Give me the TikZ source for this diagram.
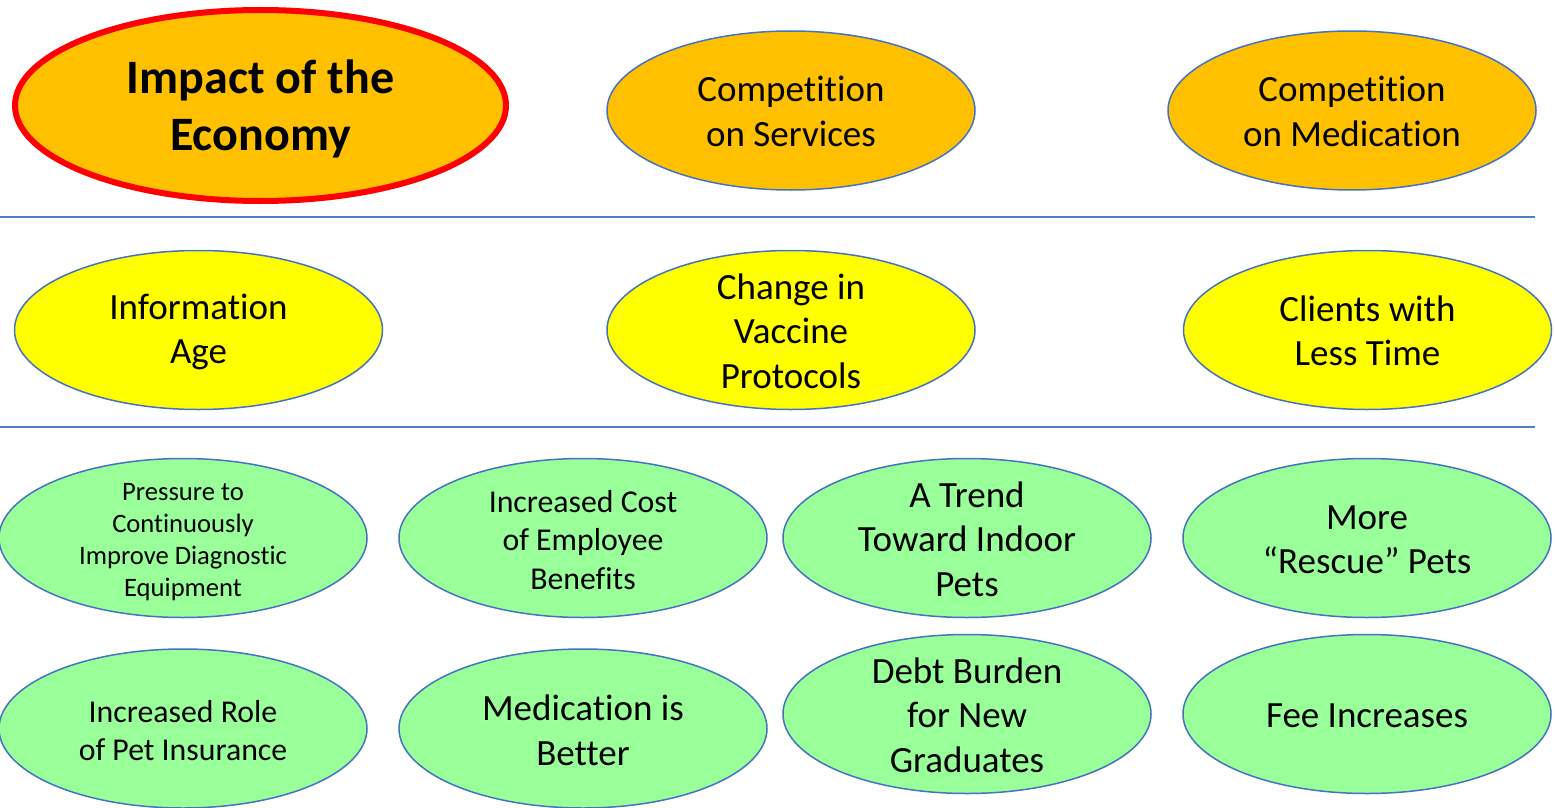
\documentclass[tikz,border=0pt]{standalone}
\usepackage{fontspec}
\setmainfont{Carlito}[Ligatures={NoCommon}]
\usetikzlibrary{shapes.geometric}
\definecolor{edgeblue}{HTML}{4472C4}
\definecolor{sepblue}{HTML}{4F81BD}
\definecolor{orangefill}{HTML}{FFC000}
\definecolor{yellowfill}{HTML}{FFFF00}
\definecolor{greenfill}{HTML}{99FF99}
\tikzset{
  oval/.style={ellipse, draw=edgeblue, line width=1.5pt, minimum width=368pt, minimum height=159pt, inner sep=0pt},
  orangeoval/.style={oval, fill=orangefill},
  yellowoval/.style={oval, fill=yellowfill},
  greenoval/.style={oval, fill=greenfill},
  txt/.style={align=center, inner sep=0pt, font=\fontsize{37}{44.5}\selectfont},
  txtmid/.style={align=center, inner sep=0pt, font=\fontsize{31.8}{38.5}\selectfont},
  txtsmall/.style={align=center, inner sep=0pt, font=\fontsize{26.6}{32}\selectfont},
  txtbig/.style={align=center, inner sep=0pt, font=\bfseries\fontsize{48}{57}\selectfont},
  sep/.style={draw=sepblue, line width=2pt}
}
\begin{document}
\begin{tikzpicture}[x=1pt,y=-1pt]
\useasboundingbox (0,0) rectangle (1555,808);
% row 1
\node[ellipse, draw=red, line width=6pt, fill=orangefill, minimum width=491pt, minimum height=191pt, inner sep=0pt] (impact) at (260.5,105.5) {};
\node[txtbig] at ([yshift=-3pt]impact.center) {Impact of the\\Economy};
\node[orangeoval] (compserv) at (791,110.5) {};
\node[txt] at ([yshift=-1pt]compserv.center) {Competition\\on Services};
\node[orangeoval] (compmed) at (1352,110.5) {};
\node[txt] at ([yshift=-1pt]compmed.center) {Competition\\on Medication};
% separators
\coordinate (s1a) at (0,217);
\coordinate (s1b) at (1535,217);
\coordinate (s2a) at (0,426.5);
\coordinate (s2b) at (1535,426.5);
\draw[sep] (s1a) -- (s1b);
\draw[sep] (s2a) -- (s2b);
% row 2
\node[yellowoval] (info) at (198.5,330) {};
\node[txt] at ([yshift=-2pt]info.center) {Information\\Age};
\node[yellowoval] (vacc) at (791,330) {};
\node[txt] at ([yshift=-1pt]vacc.center) {Change in\\Vaccine\\Protocols};
\node[yellowoval] (clients) at (1367.5,330) {};
\node[txt] at ([yshift=-1pt]clients.center) {Clients with\\Less Time};
% row 3
\node[greenoval] (press) at (183,538) {};
\node[txtsmall] at ([yshift=-4pt]press.center) {Pressure to\\Continuously\\Improve Diagnostic\\Equipment};
\node[greenoval] (cost) at (583,538) {};
\node[txtmid] at ([yshift=-2pt]cost.center) {Increased Cost\\of Employee\\Benefits};
\node[greenoval] (trend) at (967,538) {};
\node[txt] at ([yshift=-1pt]trend.center) {A Trend\\Toward Indoor\\Pets};
\node[greenoval] (rescue) at (1367,538) {};
\node[txt] at ([yshift=-2pt]rescue.center) {More\\“Rescue” Pets};
% row 4
\node[greenoval] (insur) at (183,728.5) {};
\node[txtmid] at ([yshift=-2pt]insur.center) {Increased Role\\of Pet Insurance};
\node[greenoval] (medic) at (583,728.5) {};
\node[txt] at ([yshift=-2pt]medic.center) {Medication is\\Better};
\node[greenoval] (debt) at (967,714) {};
\node[txt] at ([yshift=-1pt]debt.center) {Debt Burden\\for New\\Graduates};
\node[greenoval] (fee) at (1367,714) {};
\node[txt] at ([yshift=-2pt]fee.center) {Fee Increases};
\end{tikzpicture}
\end{document}
